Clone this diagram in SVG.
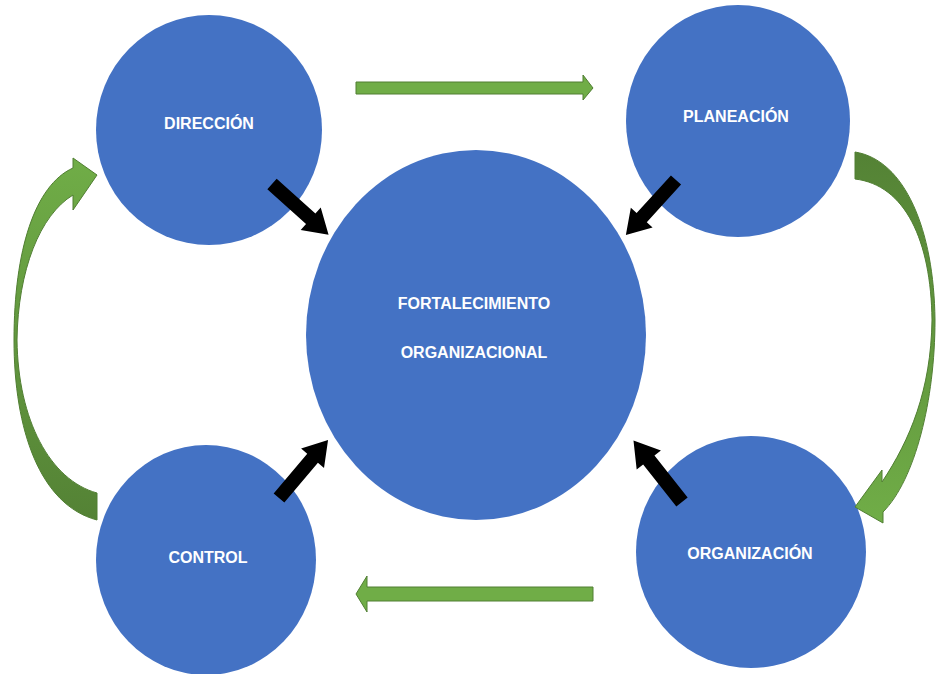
<svg xmlns="http://www.w3.org/2000/svg" width="936" height="674" viewBox="0 0 936 674">
<style>
.node{fill:#4472C4}
.lbl{fill:#ffffff;font-family:"Liberation Sans",Arial,sans-serif;font-weight:bold;font-size:16px;text-anchor:middle;dominant-baseline:central}
.garrow{fill:#70AD47;stroke:#507E32;stroke-width:1}
.barrow{fill:#000000}
</style>
<defs>
<linearGradient id="gl" x1="0" y1="1" x2="0" y2="0">
<stop offset="0" stop-color="#548235"/>
<stop offset="1" stop-color="#70AD47"/>
</linearGradient>
<linearGradient id="gr" x1="0" y1="0" x2="0" y2="1">
<stop offset="0" stop-color="#548235"/>
<stop offset="1" stop-color="#70AD47"/>
</linearGradient>
<path id="blk" d="M0 -7 L52 -7 L52 -15 L76 0 L52 15 L52 7 L0 7 Z"/>
</defs>
<rect width="936" height="674" fill="#ffffff"/>
<g id="direccion">
<ellipse class="node" cx="209" cy="130" rx="113" ry="115"/>
<text class="lbl" x="209" y="123">DIRECCIÓN</text>
</g>
<g id="planeacion">
<ellipse class="node" cx="738" cy="121" rx="112" ry="116"/>
<text class="lbl" x="736" y="116">PLANEACIÓN</text>
</g>
<g id="fortalecimiento">
<ellipse class="node" cx="476" cy="335" rx="170" ry="185"/>
<text class="lbl" x="474" y="303">FORTALECIMIENTO</text>
<text class="lbl" x="474" y="352">ORGANIZACIONAL</text>
</g>
<g id="control">
<ellipse class="node" cx="206" cy="560" rx="110" ry="115"/>
<text class="lbl" x="208" y="557">CONTROL</text>
</g>
<g id="organizacion">
<ellipse class="node" cx="751" cy="552" rx="115" ry="116"/>
<text class="lbl" x="750" y="553">ORGANIZACIÓN</text>
</g>
<g id="connectors">
<path class="garrow" d="M356 82 L583 82 L583 75 L593 88 L583 100 L583 94 L356 94 Z"/>
<path class="garrow" d="M593 587 L367 587 L367 576 L356 594 L367 612 L367 601 L593 601 Z"/>
<path class="garrow" style="fill:url(#gl)" d="M97 520 C40 505 14 430 14 340 C14 250 35 185 73 168 L73 158 L97 175 L73 210 L73 195 C40 215 18 270 17 340 C18 420 50 480 97 493 Z"/>
<path class="garrow" style="fill:url(#gr)" d="M855 152 C905 160 934 230 935 320 C935 400 915 480 883 512 L883 523 L855 507 L882 470 L882 482 C910 440 931 390 932 320 C931 240 905 185 855 179 Z"/>
<use href="#blk" class="barrow" transform="translate(272,184) rotate(41.9)"/>
<use href="#blk" class="barrow" transform="translate(676,180) rotate(132.3) scale(0.98)"/>
<use href="#blk" class="barrow" transform="translate(279,498) rotate(-49.8)"/>
<use href="#blk" class="barrow" transform="translate(682,502) rotate(-128.3) scale(1.03)"/>
</g>
</svg>
